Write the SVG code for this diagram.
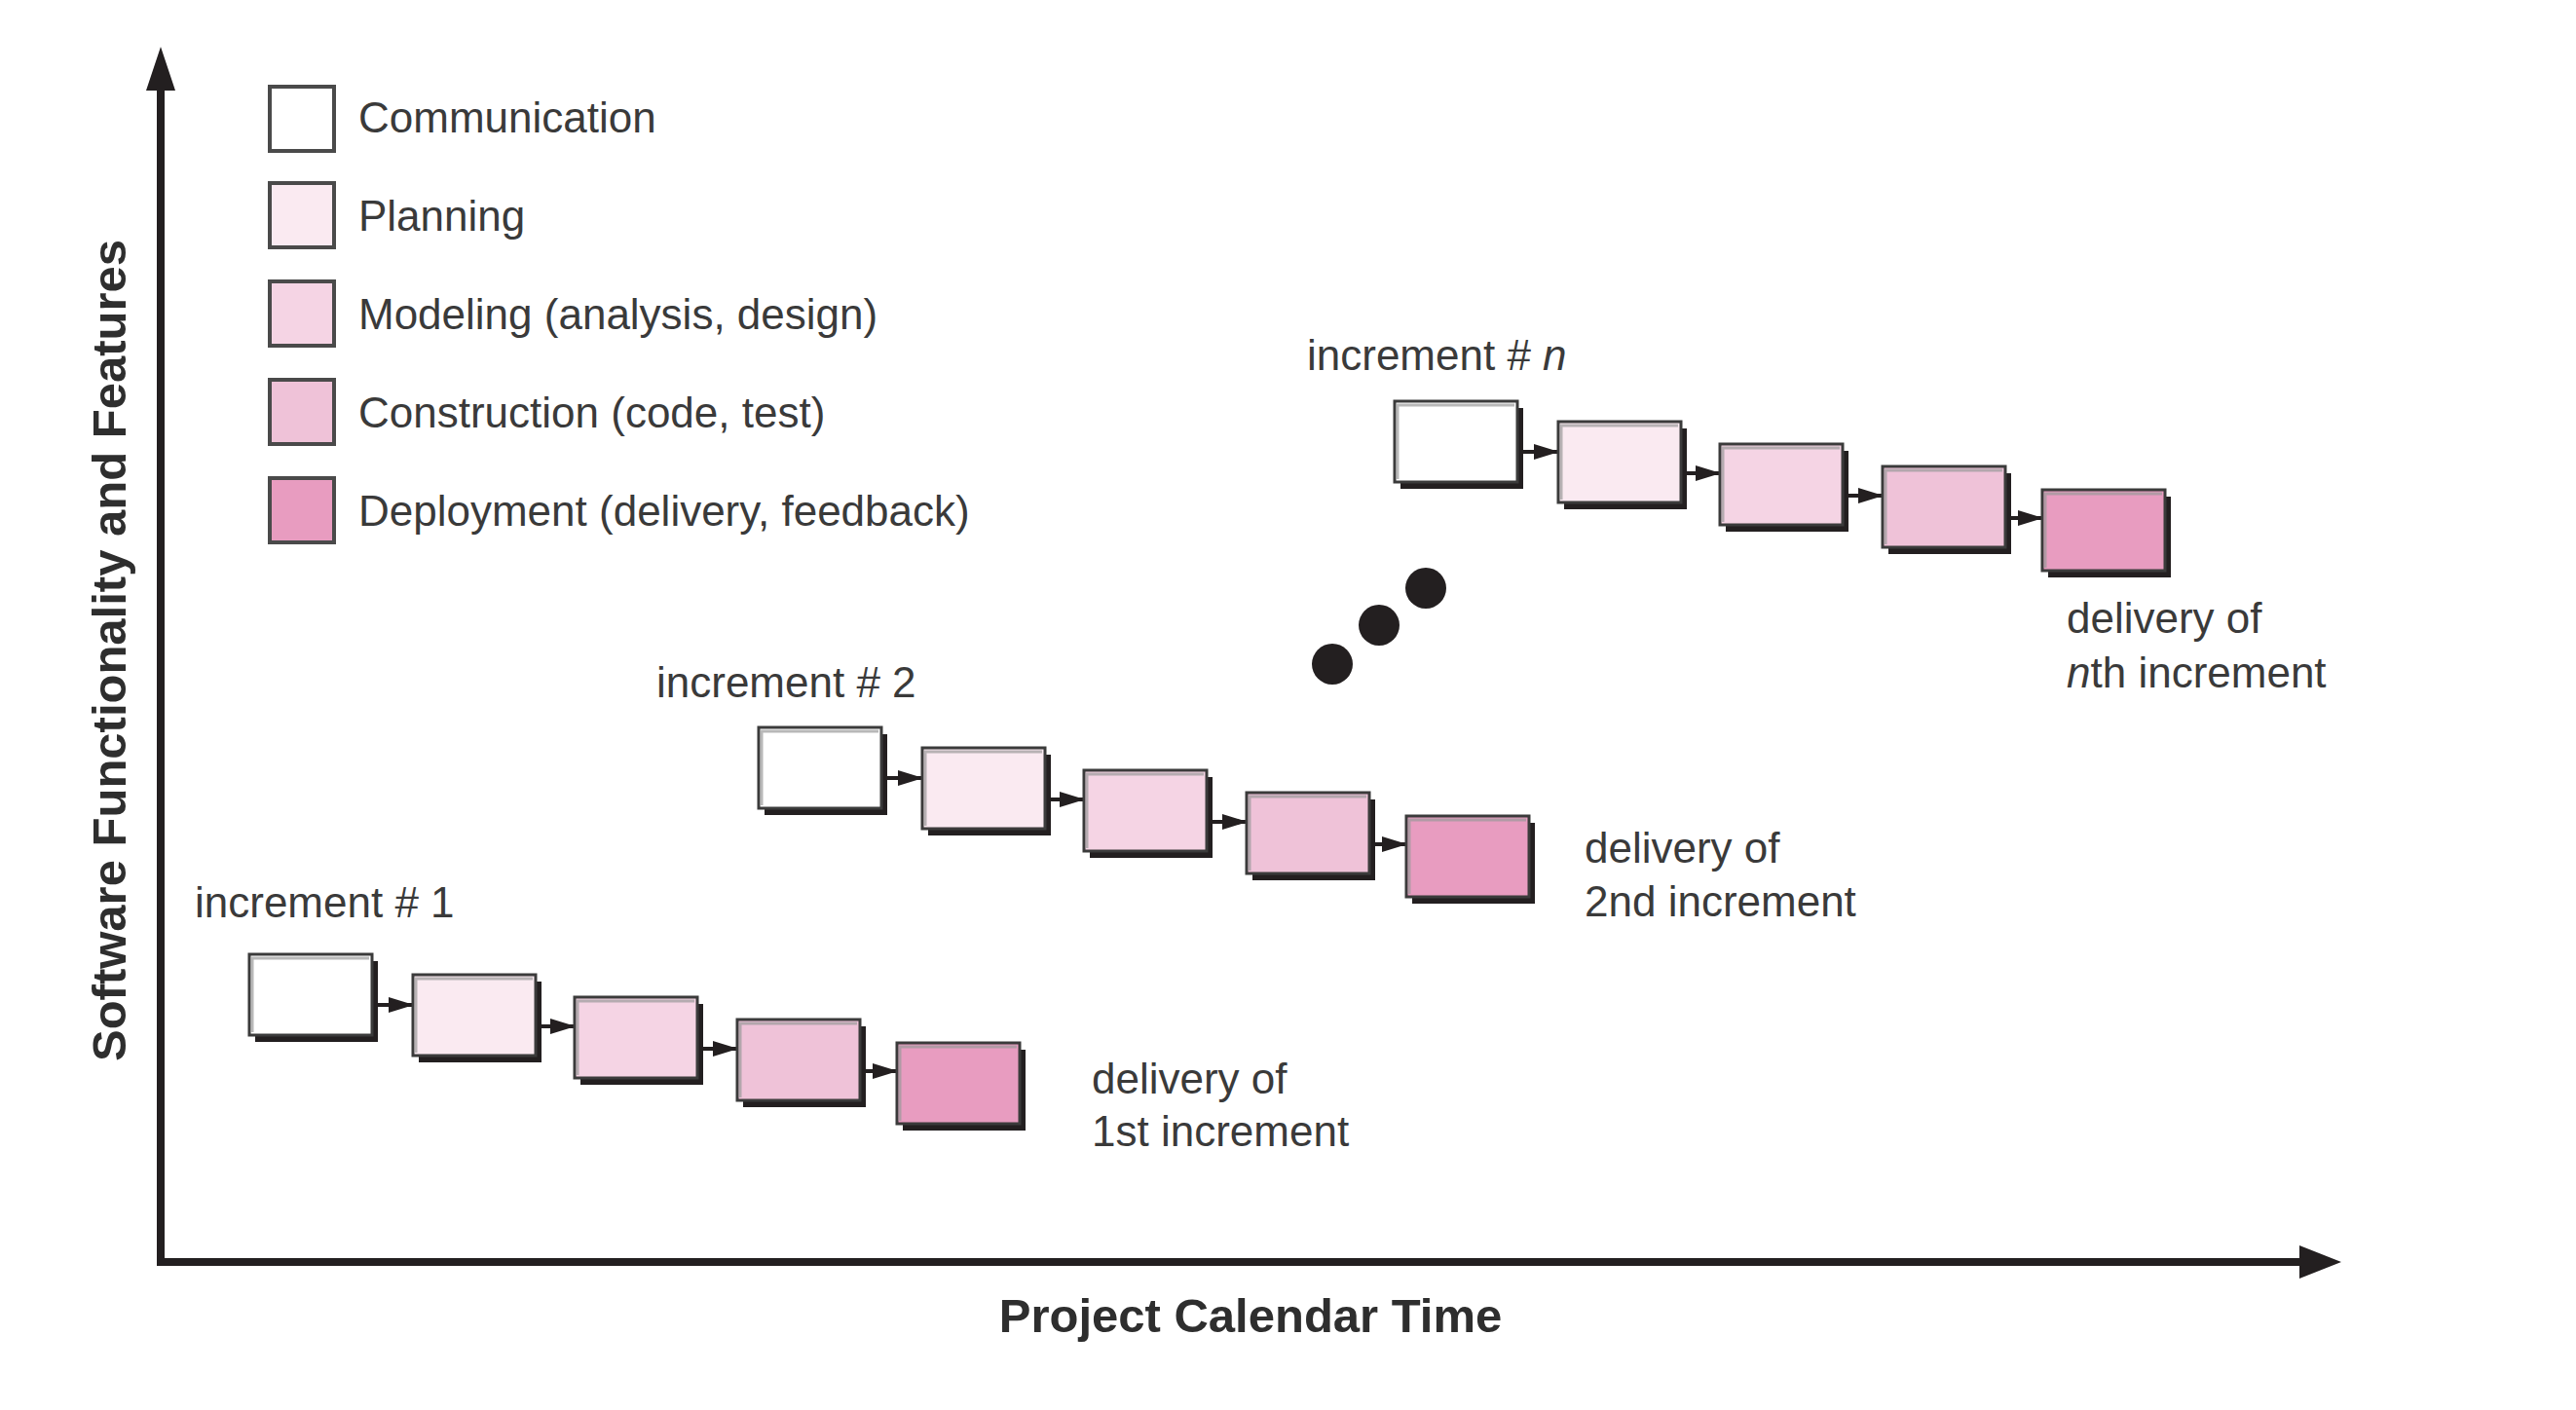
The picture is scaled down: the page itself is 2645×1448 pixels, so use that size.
<svg xmlns="http://www.w3.org/2000/svg" width="2645" height="1448" viewBox="0 0 2645 1448">
<style>
.lbl{font-family:"Liberation Sans",Arial,sans-serif;font-size:44px;fill:#3a3a3a}
.axl{font-family:"Liberation Sans",Arial,sans-serif;font-size:49px;font-weight:bold;fill:#2e2e2e}
.sh{fill:#231f20}
.bx{stroke:#3b3b3b;stroke-width:3}
.bev{fill:none;stroke:#9a9a9a;stroke-width:3;opacity:0.7}
.lg{stroke:#4a4a4a;stroke-width:4}
.c0{fill:#ffffff}.c1{fill:#faeaf1}.c2{fill:#f5d4e4}.c3{fill:#efc2d8}.c4{fill:#e89cc0}
.con{stroke:#231f20;stroke-width:4;fill:none}
.ax{stroke:#231f20;stroke-width:8;fill:none}
</style>
<defs>
<marker id="ah" markerUnits="userSpaceOnUse" markerWidth="26" markerHeight="16" refX="24" refY="8" orient="auto">
<path d="M0,0 L26,8 L0,16 z" fill="#231f20"/>
</marker>
<g id="box">
<rect class="sh" x="6" y="7" width="126" height="83"/>
</g>
</defs>
<rect width="2645" height="1448" fill="#ffffff"/>

<g id="axes">
<line class="ax" x1="165" y1="1300" x2="165" y2="88"/>
<polygon points="165,48 180,93 150,93" fill="#231f20"/>
<line class="ax" x1="161" y1="1296" x2="2366" y2="1296"/>
<polygon points="2404,1296 2361,1279 2361,1313" fill="#231f20"/>
<text class="axl" x="0" y="0" text-anchor="middle" transform="translate(129,668) rotate(-90)">Software Functionality and Features</text>
<text class="axl" x="1284" y="1368" text-anchor="middle">Project Calendar Time</text>
</g>

<g id="legend">
<g id="legend-communication"><rect class="lg c0" x="277" y="89" width="66" height="66"/><text class="lbl" x="368" y="136">Communication</text></g>
<g id="legend-planning"><rect class="lg c1" x="277" y="188" width="66" height="66"/><text class="lbl" x="368" y="237">Planning</text></g>
<g id="legend-modeling"><rect class="lg c2" x="277" y="289" width="66" height="66"/><text class="lbl" x="368" y="338">Modeling (analysis, design)</text></g>
<g id="legend-construction"><rect class="lg c3" x="277" y="390" width="66" height="66"/><text class="lbl" x="368" y="439">Construction (code, test)</text></g>
<g id="legend-deployment"><rect class="lg c4" x="277" y="491" width="66" height="66"/><text class="lbl" x="368" y="540">Deployment (delivery, feedback)</text></g>
</g>

<g id="connectors">
<line class="con" x1="388" y1="1032" x2="423" y2="1032" marker-end="url(#ah)"/>
<line class="con" x1="556" y1="1054" x2="589" y2="1054" marker-end="url(#ah)"/>
<line class="con" x1="722" y1="1077" x2="756" y2="1077" marker-end="url(#ah)"/>
<line class="con" x1="889" y1="1100" x2="920" y2="1100" marker-end="url(#ah)"/>

<line class="con" x1="911" y1="799" x2="946" y2="799" marker-end="url(#ah)"/>
<line class="con" x1="1079" y1="821" x2="1112" y2="821" marker-end="url(#ah)"/>
<line class="con" x1="1245" y1="844" x2="1279" y2="844" marker-end="url(#ah)"/>
<line class="con" x1="1412" y1="867" x2="1443" y2="867" marker-end="url(#ah)"/>

<line class="con" x1="1564" y1="464" x2="1599" y2="464" marker-end="url(#ah)"/>
<line class="con" x1="1732" y1="486" x2="1765" y2="486" marker-end="url(#ah)"/>
<line class="con" x1="1898" y1="509" x2="1932" y2="509" marker-end="url(#ah)"/>
<line class="con" x1="2065" y1="532" x2="2096" y2="532" marker-end="url(#ah)"/>
</g>

<g id="increment-1">
<text class="lbl" x="200" y="942">increment # 1</text>
<g id="inc1-communication" transform="translate(256,980)"><use href="#box"/><rect class="bx c0" width="126" height="83"/><polyline class="bev" points="3,80 3,4 123,4"/></g>
<g id="inc1-planning" transform="translate(424,1001)"><use href="#box"/><rect class="bx c1" width="126" height="83"/><polyline class="bev" points="3,80 3,4 123,4"/></g>
<g id="inc1-modeling" transform="translate(590,1024)"><use href="#box"/><rect class="bx c2" width="126" height="83"/><polyline class="bev" points="3,80 3,4 123,4"/></g>
<g id="inc1-construction" transform="translate(757,1047)"><use href="#box"/><rect class="bx c3" width="126" height="83"/><polyline class="bev" points="3,80 3,4 123,4"/></g>
<g id="inc1-deployment" transform="translate(921,1071)"><use href="#box"/><rect class="bx c4" width="126" height="83"/><polyline class="bev" points="3,80 3,4 123,4"/></g>
<text class="lbl" x="1121" y="1123">delivery of</text>
<text class="lbl" x="1121" y="1177">1st increment</text>
</g>

<g id="increment-2">
<text class="lbl" x="674" y="716">increment # 2</text>
<g id="inc2-communication" transform="translate(779,747)"><use href="#box"/><rect class="bx c0" width="126" height="83"/><polyline class="bev" points="3,80 3,4 123,4"/></g>
<g id="inc2-planning" transform="translate(947,768)"><use href="#box"/><rect class="bx c1" width="126" height="83"/><polyline class="bev" points="3,80 3,4 123,4"/></g>
<g id="inc2-modeling" transform="translate(1113,791)"><use href="#box"/><rect class="bx c2" width="126" height="83"/><polyline class="bev" points="3,80 3,4 123,4"/></g>
<g id="inc2-construction" transform="translate(1280,814)"><use href="#box"/><rect class="bx c3" width="126" height="83"/><polyline class="bev" points="3,80 3,4 123,4"/></g>
<g id="inc2-deployment" transform="translate(1444,838)"><use href="#box"/><rect class="bx c4" width="126" height="83"/><polyline class="bev" points="3,80 3,4 123,4"/></g>
<text class="lbl" x="1627" y="886">delivery of</text>
<text class="lbl" x="1627" y="941">2nd increment</text>
</g>

<g id="ellipsis">
<circle cx="1368" cy="682" r="21" fill="#231f20"/>
<circle cx="1416" cy="642" r="21" fill="#231f20"/>
<circle cx="1464" cy="604" r="21" fill="#231f20"/>
</g>

<g id="increment-n">
<text class="lbl" x="1342" y="380">increment # <tspan font-style="italic">n</tspan></text>
<g id="incn-communication" transform="translate(1432,412)"><use href="#box"/><rect class="bx c0" width="126" height="83"/><polyline class="bev" points="3,80 3,4 123,4"/></g>
<g id="incn-planning" transform="translate(1600,433)"><use href="#box"/><rect class="bx c1" width="126" height="83"/><polyline class="bev" points="3,80 3,4 123,4"/></g>
<g id="incn-modeling" transform="translate(1766,456)"><use href="#box"/><rect class="bx c2" width="126" height="83"/><polyline class="bev" points="3,80 3,4 123,4"/></g>
<g id="incn-construction" transform="translate(1933,479)"><use href="#box"/><rect class="bx c3" width="126" height="83"/><polyline class="bev" points="3,80 3,4 123,4"/></g>
<g id="incn-deployment" transform="translate(2097,503)"><use href="#box"/><rect class="bx c4" width="126" height="83"/><polyline class="bev" points="3,80 3,4 123,4"/></g>
<text class="lbl" x="2122" y="650"><tspan>delivery of</tspan></text>
<text class="lbl" x="2122" y="706"><tspan font-style="italic">n</tspan>th increment</text>
</g>
</svg>
